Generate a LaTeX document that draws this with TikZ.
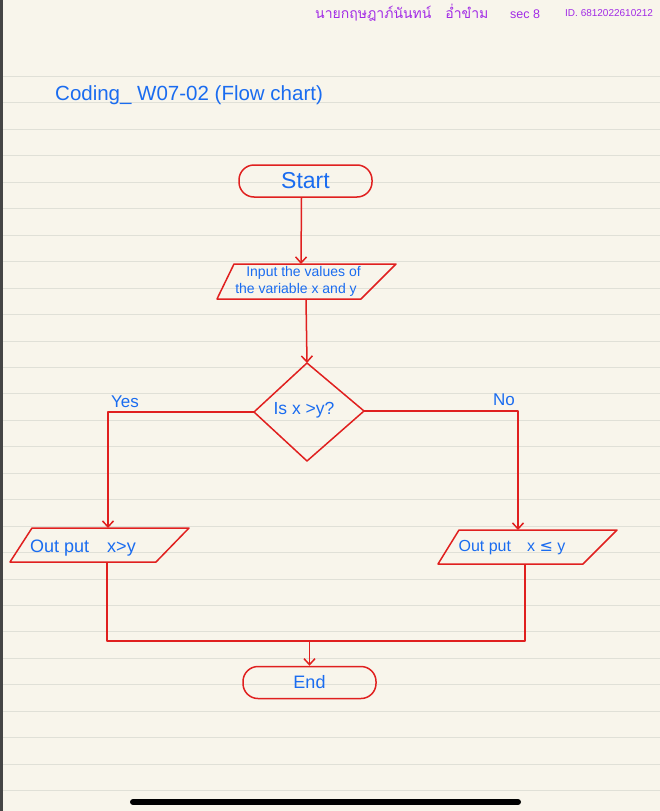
\documentclass[tikz,border=0pt]{standalone}
\usepackage{fontspec}
\setmainfont{Liberation Sans}
\newfontfamily\thaifont[Script=Thai]{Loma}
\newfontfamily\symfont{DejaVu Sans}
\usetikzlibrary{arrows.meta}
\definecolor{paper}{HTML}{F8F5EB}
\definecolor{edge}{HTML}{454545}
\definecolor{ruleline}{HTML}{E0E0D7}
\definecolor{penred}{HTML}{E0201F}
\definecolor{penblue}{HTML}{1A6CF0}
\definecolor{penpurple}{HTML}{A22BE6}
\newcommand{\fs}[1]{\fontsize{#1}{#1}\selectfont}
\tikzset{
  rule/.style={draw=ruleline, line width=1pt},
  redline/.style={draw=penred, line width=1.5pt, line join=round},
  arr/.style={redline, -{Straight Barb[length=6pt,width=11pt,line width=1.5pt]}},
  term/.style={draw=penred, line width=1.5pt, rounded corners=15pt, minimum width=133pt,
    minimum height=32pt, inner sep=0pt, text=penblue},
  handtext/.style={text=penblue, inner sep=0pt},
  hdr/.style={text=penpurple, inner sep=0pt, anchor=west}
}
\begin{document}
\begin{tikzpicture}[x=1pt,y=-1pt]
\useasboundingbox (0,0) rectangle (660,811);
\fill[paper] (0,0) rectangle (660,811);
\fill[edge] (0,0) rectangle (3,811);
\foreach \k in {0,...,27} \draw[rule] (3,{76.5+26.45*\k}) -- (660,{76.5+26.45*\k});

% header
\node[hdr, font=\thaifont\fs{14}] (hname) at (315,13) {นายกฤษฎาภ์นันทน์\quad อ่ำขำม};
\node[hdr, font=\fs{12.5}] (hsec) at (510,14) {sec 8};
\node[hdr, font=\fs{10}] (hid) at (565,13) {ID. 6812022610212};

% title
\node[handtext, anchor=west, font=\fs{20.5}] (title) at (55,95) {Coding\_ W07-02 (Flow chart)};

% start
\node[term, font=\fs{23}] (start) at (305.5,181) {Start};

% input
\coordinate (inTL) at (234,264);
\coordinate (inTR) at (396,264);
\coordinate (inBR) at (361,299);
\coordinate (inBL) at (217,299);
\draw[redline] (inTL) -- (inTR) -- (inBR) -- (inBL) -- cycle;
\coordinate (inTop) at (301,264);
\coordinate (inBot) at (306,299);
\node[handtext, align=left, font=\fontsize{14}{17}\selectfont] (intext) at (298,281) {\hspace*{11pt}Input the values of\\the variable x and y};

% decision
\coordinate (dT) at (307,363);
\coordinate (dL) at (254,412);
\coordinate (dR) at (364,411);
\coordinate (dB) at (307,461);
\draw[redline] (dT) -- (dR) -- (dB) -- (dL) -- cycle;
\node[handtext, font=\fs{17.5}] (cond) at (304,410) {Is x >y?};

% left output
\coordinate (oLTL) at (32,528);
\coordinate (oLTR) at (189,528);
\coordinate (oLBR) at (156,562);
\coordinate (oLBL) at (10,562);
\draw[redline] (oLTL) -- (oLTR) -- (oLBR) -- (oLBL) -- cycle;
\coordinate (oLTop) at (108,528);
\coordinate (oLBot) at (107,562);
\node[handtext, font=\fs{18}] (outL) at (83,548) {Out put\quad x>y};

% right output
\coordinate (oRTL) at (459,530);
\coordinate (oRTR) at (617,530);
\coordinate (oRBR) at (583,564);
\coordinate (oRBL) at (438,564);
\draw[redline] (oRTL) -- (oRTR) -- (oRBR) -- (oRBL) -- cycle;
\coordinate (oRTop) at (518,530);
\coordinate (oRBot) at (525,564);
\node[handtext, font=\fs{16}] (outR) at (512,548) {Out put\quad x {\symfont ≤} y};

% end
\node[term, font=\fs{18}] (end) at (309.5,682.5) {End};

% branch labels
\node[handtext, font=\fs{17}] (yes) at (125,402) {Yes};
\node[handtext, font=\fs{17}] (no) at (504,400) {No};

% connectors
\draw[arr] ([xshift=-4pt]start.south) -- (inTop);
\draw[arr] (inBot) -- (dT);
\draw[arr] (dL) -| (oLTop);
\draw[arr] (dR) -| (oRTop);
\coordinate (jL) at (107,641);
\coordinate (jR) at (525,641);
\coordinate (merge) at (309.5,641);
\draw[redline] (oLBot) -- (jL) -- (jR) -- (oRBot);
\draw[arr] (merge) -- (end.north);

% home indicator
\draw[line width=6pt, line cap=round] (133,802) coordinate (hb1) -- (518,802) coordinate (hb2);
\end{tikzpicture}
\end{document}
